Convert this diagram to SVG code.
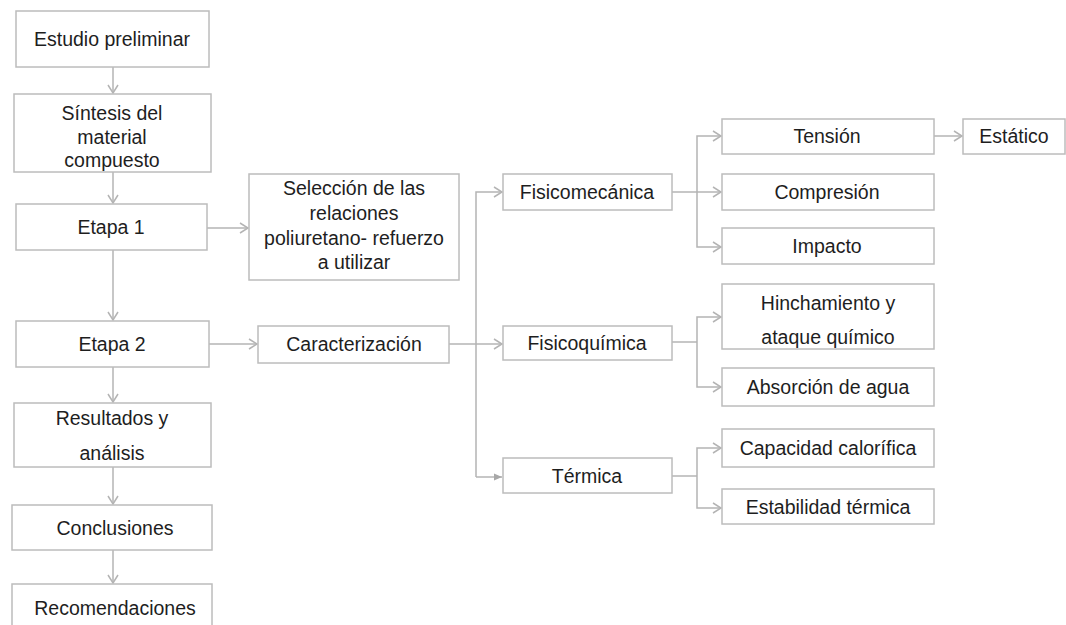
<svg xmlns="http://www.w3.org/2000/svg" width="1066" height="625" viewBox="0 0 1066 625">
<style>
.box{fill:#fff;stroke:#bcbcbc;stroke-width:1.5}
.t{font-family:"Liberation Sans",Arial,sans-serif;font-size:19.5px;fill:#1e1e1e;text-anchor:middle}
.c{fill:none;stroke:#b4b4b4;stroke-width:1.5}
</style>
<defs>
<marker id="a" viewBox="0 0 10 12" refX="9" refY="6" markerWidth="10" markerHeight="12" markerUnits="userSpaceOnUse" orient="auto">
<path d="M1,1 L9,6 L1,11" fill="none" stroke="#b4b4b4" stroke-width="1.5"/>
</marker>
<marker id="f" viewBox="0 0 8 8" refX="8" refY="4" markerWidth="8" markerHeight="8" markerUnits="userSpaceOnUse" orient="auto">
<path d="M0,0.5 L8,4 L0,7.5 Z" fill="#a8a8a8"/>
</marker>
</defs>
<rect width="1066" height="625" fill="#fff"/>
<g id="connectors">
<line class="c" x1="113" y1="67" x2="113" y2="93" marker-end="url(#a)"/>
<line class="c" x1="113" y1="172" x2="113" y2="203" marker-end="url(#a)"/>
<line class="c" x1="113" y1="250" x2="113" y2="320" marker-end="url(#a)"/>
<line class="c" x1="113" y1="367" x2="113" y2="402" marker-end="url(#a)"/>
<line class="c" x1="113" y1="467" x2="113" y2="504" marker-end="url(#a)"/>
<line class="c" x1="113" y1="550" x2="113" y2="583" marker-end="url(#a)"/>
<line class="c" x1="207" y1="228" x2="248" y2="228" marker-end="url(#a)"/>
<line class="c" x1="209" y1="344" x2="257" y2="344" marker-end="url(#a)"/>
<line class="c" x1="449" y1="344" x2="502" y2="344" marker-end="url(#a)"/>
<polyline class="c" points="476,477 476,192 502,192" marker-end="url(#a)"/>
<line class="c" x1="476" y1="477" x2="502" y2="477" marker-end="url(#f)"/>
<line class="c" x1="672" y1="192" x2="721" y2="192" marker-end="url(#a)"/>
<polyline class="c" points="697,192 697,136 721,136" marker-end="url(#a)"/>
<polyline class="c" points="697,192 697,247 721,247" marker-end="url(#a)"/>
<line class="c" x1="934" y1="136" x2="962" y2="136" marker-end="url(#a)"/>
<line class="c" x1="672" y1="342" x2="697" y2="342"/>
<polyline class="c" points="697,342 697,317 721,317" marker-end="url(#a)"/>
<polyline class="c" points="697,342 697,387 721,387" marker-end="url(#a)"/>
<line class="c" x1="672" y1="476" x2="697" y2="476"/>
<polyline class="c" points="697,476 697,448 721,448" marker-end="url(#a)"/>
<polyline class="c" points="697,476 697,508 721,508" marker-end="url(#a)"/>
</g>
<g id="estudio"><rect class="box" x="16" y="11" width="193" height="56"/><text class="t" x="112" y="46">Estudio preliminar</text></g>
<g id="sintesis"><rect class="box" x="14" y="94" width="197" height="78"/><text class="t" x="112" y="120">Síntesis del</text><text class="t" x="112" y="144">material</text><text class="t" x="112" y="167">compuesto</text></g>
<g id="etapa1"><rect class="box" x="16" y="204" width="191" height="46"/><text class="t" x="111" y="234">Etapa 1</text></g>
<g id="seleccion"><rect class="box" x="249" y="174" width="210" height="106"/><text class="t" x="354" y="195">Selección de las</text><text class="t" x="354" y="220">relaciones</text><text class="t" x="354" y="245">poliuretano- refuerzo</text><text class="t" x="354" y="269">a utilizar</text></g>
<g id="etapa2"><rect class="box" x="16" y="321" width="193" height="46"/><text class="t" x="112" y="351">Etapa 2</text></g>
<g id="caracterizacion"><rect class="box" x="258" y="326" width="191" height="37"/><text class="t" x="354" y="351">Caracterización</text></g>
<g id="resultados"><rect class="box" x="14" y="403" width="197" height="64"/><text class="t" x="112" y="425">Resultados y</text><text class="t" x="112" y="460">análisis</text></g>
<g id="conclusiones"><rect class="box" x="12" y="505" width="200" height="45"/><text class="t" x="115" y="535">Conclusiones</text></g>
<g id="recomendaciones"><rect class="box" x="12" y="584" width="200" height="50"/><text class="t" x="115" y="615">Recomendaciones</text></g>
<g id="fisicomecanica"><rect class="box" x="503" y="174" width="169" height="36"/><text class="t" x="587" y="199">Fisicomecánica</text></g>
<g id="tension"><rect class="box" x="722" y="119" width="212" height="35"/><text class="t" x="827" y="143">Tensión</text></g>
<g id="estatico"><rect class="box" x="963" y="119" width="102" height="35"/><text class="t" x="1014" y="143">Estático</text></g>
<g id="compresion"><rect class="box" x="722" y="174" width="212" height="36"/><text class="t" x="827" y="199">Compresión</text></g>
<g id="impacto"><rect class="box" x="722" y="228" width="212" height="36"/><text class="t" x="827" y="253">Impacto</text></g>
<g id="fisicoquimica"><rect class="box" x="503" y="326" width="169" height="34"/><text class="t" x="587" y="350">Fisicoquímica</text></g>
<g id="hinchamiento"><rect class="box" x="722" y="284" width="212" height="65"/><text class="t" x="828" y="310">Hinchamiento y</text><text class="t" x="828" y="344">ataque químico</text></g>
<g id="absorcion"><rect class="box" x="722" y="368" width="212" height="38"/><text class="t" x="828" y="394">Absorción de agua</text></g>
<g id="termica"><rect class="box" x="503" y="458" width="169" height="35"/><text class="t" x="587" y="483">Térmica</text></g>
<g id="capacidad"><rect class="box" x="722" y="429" width="212" height="38"/><text class="t" x="828" y="455">Capacidad calorífica</text></g>
<g id="estabilidad"><rect class="box" x="722" y="489" width="212" height="35"/><text class="t" x="828" y="514">Estabilidad térmica</text></g>
</svg>
